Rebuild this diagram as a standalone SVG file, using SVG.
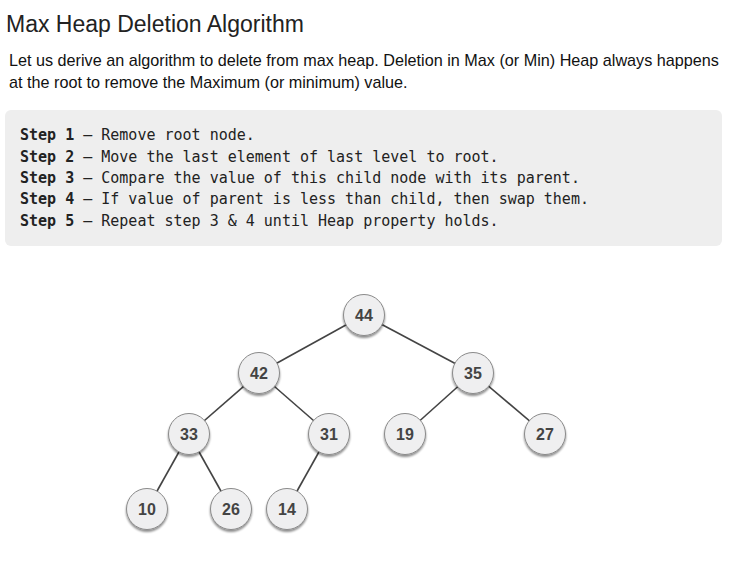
<svg xmlns="http://www.w3.org/2000/svg" width="734" height="579" viewBox="0 0 734 579">
<defs>
<style>
.title{font-family:"Liberation Sans",Arial,sans-serif;font-size:23px;fill:#222}
.body{font-family:"Liberation Sans",Arial,sans-serif;font-size:16.2px;fill:#111}
.code{font-family:"DejaVu Sans Mono",monospace;font-size:15px;fill:#222}
.code .b{font-weight:bold}
.edge{stroke:#444;stroke-width:1.6;fill:none}
.node circle{fill:#efeff0;stroke:#8a8a8a;stroke-width:1}
.node text{font-family:"Liberation Sans",Arial,sans-serif;font-size:16px;font-weight:bold;fill:#444;text-anchor:middle}
</style>
<filter id="ds" x="-30%" y="-30%" width="160%" height="170%">
<feGaussianBlur in="SourceAlpha" stdDeviation="1.2"/>
<feOffset dy="1.5" result="b"/>
<feComponentTransfer><feFuncA type="linear" slope="0.45"/></feComponentTransfer>
<feMerge><feMergeNode/><feMergeNode in="SourceGraphic"/></feMerge>
</filter>
</defs>
<rect width="734" height="579" fill="#ffffff"/>
<text class="title" x="6" y="32">Max Heap Deletion Algorithm</text>
<text class="body" x="9" y="66">Let us derive an algorithm to delete from max heap. Deletion in Max (or Min) Heap always happens</text>
<text class="body" x="9" y="88">at the root to remove the Maximum (or minimum) value.</text>
<rect x="5" y="110" width="717" height="136" rx="6" fill="#eeeeee"/>
<g class="code">
<text x="20" y="140"><tspan class="b">Step 1</tspan> – Remove root node.</text>
<text x="20" y="162"><tspan class="b">Step 2</tspan> – Move the last element of last level to root.</text>
<text x="20" y="183"><tspan class="b">Step 3</tspan> – Compare the value of this child node with its parent.</text>
<text x="20" y="204"><tspan class="b">Step 4</tspan> – If value of parent is less than child, then swap them.</text>
<text x="20" y="226"><tspan class="b">Step 5</tspan> – Repeat step 3 &amp; 4 until Heap property holds.</text>
</g>
<g id="connectors">
<line class="edge" x1="364" y1="315" x2="259" y2="373"/>
<line class="edge" x1="364" y1="315" x2="473" y2="373"/>
<line class="edge" x1="259" y1="373" x2="189" y2="434"/>
<line class="edge" x1="259" y1="373" x2="329" y2="434"/>
<line class="edge" x1="473" y1="373" x2="405" y2="434"/>
<line class="edge" x1="473" y1="373" x2="545" y2="434"/>
<line class="edge" x1="189" y1="434" x2="147" y2="509"/>
<line class="edge" x1="189" y1="434" x2="231" y2="509"/>
<line class="edge" x1="329" y1="434" x2="287" y2="509"/>
</g>
<g id="n44" class="node"><circle cx="364" cy="315" r="20.5" filter="url(#ds)"/><text x="364" y="321">44</text></g>
<g id="n42" class="node"><circle cx="259" cy="373" r="20.5" filter="url(#ds)"/><text x="259" y="379">42</text></g>
<g id="n35" class="node"><circle cx="473" cy="373" r="20.5" filter="url(#ds)"/><text x="473" y="379">35</text></g>
<g id="n33" class="node"><circle cx="189" cy="434" r="20.5" filter="url(#ds)"/><text x="189" y="440">33</text></g>
<g id="n31" class="node"><circle cx="329" cy="434" r="20.5" filter="url(#ds)"/><text x="329" y="440">31</text></g>
<g id="n19" class="node"><circle cx="405" cy="434" r="20.5" filter="url(#ds)"/><text x="405" y="440">19</text></g>
<g id="n27" class="node"><circle cx="545" cy="434" r="20.5" filter="url(#ds)"/><text x="545" y="440">27</text></g>
<g id="n10" class="node"><circle cx="147" cy="509" r="20.5" filter="url(#ds)"/><text x="147" y="515">10</text></g>
<g id="n26" class="node"><circle cx="231" cy="509" r="20.5" filter="url(#ds)"/><text x="231" y="515">26</text></g>
<g id="n14" class="node"><circle cx="287" cy="509" r="20.5" filter="url(#ds)"/><text x="287" y="515">14</text></g>
</svg>
